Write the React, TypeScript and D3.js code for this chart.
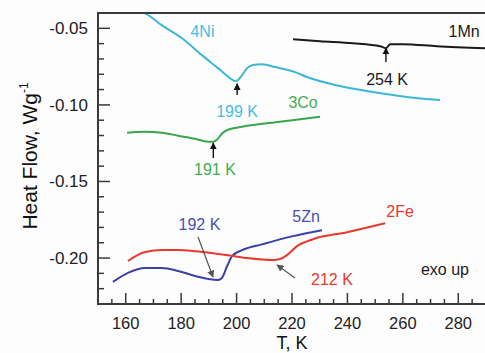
import React from "react"
import * as d3 from "d3"

// ── Data (T in K, heat flow in W/g) ────────────────────────────────────────────

const mn1: [number, number][] = [
  [220.4, -0.0571], [230.1, -0.0584], [242.0, -0.0597], [251.8, -0.0617],
  [253.9, -0.063], [255.4, -0.0604], [260.1, -0.0604], [272.3, -0.0617],
  [290.0, -0.063],
]

const ni4: [number, number][] = [
  [166.0, -0.0395], [167.0, -0.0403], [173.1, -0.0481], [180.3, -0.0565],
  [187.5, -0.0675], [193.3, -0.076], [197.6, -0.0825], [199.4, -0.0844],
  [200.5, -0.0838], [202.0, -0.0805], [203.8, -0.076], [205.9, -0.074],
  [209.2, -0.0734], [213.9, -0.0753], [221.1, -0.0786], [225.4, -0.0818],
  [237.3, -0.0877], [249.2, -0.0916], [261.5, -0.0948], [273.4, -0.0968],
]

const co3: [number, number][] = [
  [160.5, -0.1182], [167.0, -0.1175], [173.1, -0.1182], [178.9, -0.1201],
  [185.0, -0.1221], [189.7, -0.124], [191.5, -0.124], [192.9, -0.1227],
  [194.7, -0.1188], [196.9, -0.1162], [202.0, -0.1143], [215.7, -0.111],
  [230.1, -0.1078],
]

const zn5: [number, number][] = [
  [155.4, -0.2156], [160.8, -0.2097], [167.0, -0.2065], [173.1, -0.2065],
  [178.9, -0.2084], [185.0, -0.2117], [189.7, -0.2136], [193.3, -0.2143],
  [194.7, -0.213], [196.6, -0.2052], [198.4, -0.1987], [202.0, -0.1948],
  [209.5, -0.1909], [220.4, -0.1857], [230.8, -0.1818],
]

const fe2: [number, number][] = [
  [160.8, -0.2019], [167.0, -0.1961], [173.1, -0.1948], [178.9, -0.1948],
  [185.0, -0.1955], [191.5, -0.1968], [196.9, -0.1981], [203.8, -0.2],
  [213.2, -0.2013], [215.7, -0.2006], [218.2, -0.1981], [221.8, -0.1922],
  [227.6, -0.1877], [239.9, -0.1831], [253.6, -0.1773],
]

const series = [
  { name: "1Mn", data: mn1, color: "#1a1a1a" },
  { name: "4Ni", data: ni4, color: "#3db7d6" },
  { name: "3Co", data: co3, color: "#38a64c" },
  { name: "5Zn", data: zn5, color: "#3b3fa6" },
  { name: "2Fe", data: fe2, color: "#e8392e" },
]

// labels: text, T (center), Q (baseline), colour
const labels: [string, number, number, string][] = [
  ["4Ni", 187.7, -0.0557, "#45bde0"],
  ["199 K", 200.2, -0.1079, "#45bde0"],
  ["3Co", 224.0, -0.102, "#3fae52"],
  ["191 K", 192.2, -0.1458, "#3fae52"],
  ["1Mn", 282.1, -0.0557, "#1a1a1a"],
  ["254 K", 254.3, -0.087, "#1a1a1a"],
  ["192 K", 186.6, -0.1817, "#4a4fb0"],
  ["5Zn", 225.1, -0.1765, "#4a4fb0"],
  ["2Fe", 259.0, -0.1732, "#e8392e"],
  ["212 K", 234.4, -0.2176, "#e8392e"],
  ["exo up", 275.2, -0.2111, "#1a1a1a"],
]

// arrows: from [T, Q] to tip [T, Q], colour
const arrows: [number, number, number, number, string][] = [
  [200.2, -0.0935, 200.2, -0.0862, "#111"],
  [191.6, -0.1347, 191.6, -0.1249, "#111"],
  [253.9, -0.072, 253.9, -0.0629, "#111"],
  [186.1, -0.1863, 191.5, -0.2124, "#555"],
  [221.1, -0.213, 214.6, -0.2045, "#555"],
]

const xMajor = [160, 180, 200, 220, 240, 260, 280]
const yMajor = [-0.05, -0.1, -0.15, -0.2]

// ── Chart ──────────────────────────────────────────────────────────────────────

const W = 485
const H = 353
const plot = { left: 98, right: 486, top: 13, bottom: 304 }

export default function App() {
  const x = d3.scaleLinear().domain([150, 290]).range([plot.left, plot.right])
  const y = d3.scaleLinear().domain([-0.23, -0.04]).range([plot.bottom, plot.top])

  const line = d3
    .line<[number, number]>()
    .x(d => x(d[0]))
    .y(d => y(d[1]))
    .curve(d3.curveMonotoneX)

  const xMinor = d3.range(155, 290, 5).filter(t => t % 20 !== 0)
  const yMinor = d3.range(-22, -4, 1).map(v => v / 100).filter(v => !yMajor.some(m => Math.abs(m - v) < 1e-6))

  const axisColor = "#3a3a3a"
  const font = "'Liberation Sans', Arial, Helvetica, sans-serif"

  return (
    <div style={{ position: "fixed", left: 0, top: 0 }}>
      <svg width={W} height={H} style={{ display: "block", background: "#fdfdfd" }} fontFamily={font}>
        <defs>
          <clipPath id="plot-clip">
            <rect x={plot.left} y={plot.top} width={plot.right - plot.left} height={plot.bottom - plot.top} />
          </clipPath>
          <marker id="ah-dark" viewBox="0 0 10 10" refX="9" refY="5" markerWidth="5" markerHeight="6" orient="auto">
            <path d="M0,0 L10,5 L0,10 z" fill="#111" />
          </marker>
          <marker id="ah-gray" viewBox="0 0 10 10" refX="9" refY="5" markerWidth="6" markerHeight="6" orient="auto">
            <path d="M0,0 L10,5 L0,10 z" fill="#555" />
          </marker>
        </defs>

        {/* Curves */}
        <g clipPath="url(#plot-clip)">
          {series.map(s => (
            <path key={s.name} d={line(s.data) || ""} fill="none" stroke={s.color} strokeWidth={2} strokeLinejoin="round" />
          ))}
        </g>

        {/* Arrows */}
        {arrows.map(([t0, q0, t1, q1, c], i) => (
          <line
            key={i}
            x1={x(t0)}
            y1={y(q0)}
            x2={x(t1)}
            y2={y(q1)}
            stroke={c}
            strokeWidth={c === "#111" ? 1.4 : 1.2}
            markerEnd={c === "#111" ? "url(#ah-dark)" : "url(#ah-gray)"}
          />
        ))}

        {/* Labels */}
        {labels.map(([txt, t, q, c]) => (
          <text key={txt} x={x(t)} y={y(q)} textAnchor="middle" fontSize={16} fill={c}>
            {txt}
          </text>
        ))}

        {/* Frame */}
        <line x1={plot.left} x2={plot.right} y1={plot.top} y2={plot.top} stroke={axisColor} strokeWidth={2} />
        <line x1={plot.left} x2={plot.left} y1={plot.top - 1} y2={plot.bottom + 1} stroke={axisColor} strokeWidth={2} />
        <line x1={plot.left - 1} x2={plot.right} y1={plot.bottom} y2={plot.bottom} stroke={axisColor} strokeWidth={2} />

        {/* X ticks */}
        {xMajor.map(t => (
          <g key={t}>
            <line x1={x(t)} x2={x(t)} y1={plot.bottom} y2={plot.bottom - 11} stroke={axisColor} strokeWidth={1.5} />
            <text x={x(t)} y={329} textAnchor="middle" fontSize={16.5} fill="#222">
              {t}
            </text>
          </g>
        ))}
        {xMinor.map(t => (
          <line key={t} x1={x(t)} x2={x(t)} y1={plot.bottom} y2={plot.bottom - 5} stroke={axisColor} strokeWidth={1.5} />
        ))}

        {/* Y ticks */}
        {yMajor.map(v => (
          <g key={v}>
            <line x1={plot.left} x2={plot.left + 12} y1={y(v)} y2={y(v)} stroke={axisColor} strokeWidth={1.5} />
            <text x={88} y={y(v)} dy="0.35em" textAnchor="end" fontSize={17} fill="#222">
              {v.toFixed(2)}
            </text>
          </g>
        ))}
        {yMinor.map(v => (
          <line key={v} x1={plot.left} x2={plot.left + 6} y1={y(v)} y2={y(v)} stroke={axisColor} strokeWidth={1.5} />
        ))}

        {/* Axis titles */}
        <text x={292} y={349} textAnchor="middle" fontSize={18} fill="#111">
          T, K
        </text>
        <text transform={`translate(37,156) rotate(-90)`} textAnchor="middle" fontSize={21} fill="#111">
          Heat Flow, Wg
          <tspan dy={-9} fontSize={12}>-1</tspan>
        </text>
      </svg>
    </div>
  )
}
